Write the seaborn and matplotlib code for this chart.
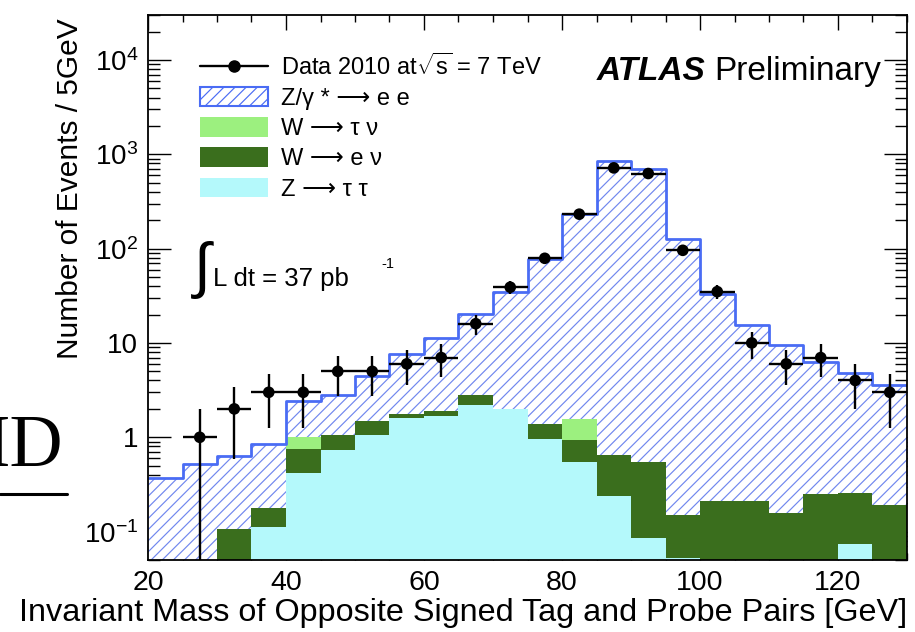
import numpy as np
import pandas as pd
import matplotlib
matplotlib.use("Agg")
import matplotlib.pyplot as plt
import seaborn as sns
from matplotlib.lines import Line2D
from matplotlib.patches import Patch
from matplotlib.ticker import FixedLocator, LogLocator, MultipleLocator, NullFormatter
from matplotlib.colors import to_rgba

# ---- binning: 5 GeV bins from 20 to 130 GeV ----
bin_width = 5
mass_low = np.arange(20, 130, bin_width)
bin_edges = [float(e) for e in np.arange(20, 131, bin_width)]
mass_center = mass_low + bin_width / 2

# ---- expected events per bin for each process ----
z_ee = [0.37, 0.52, 0.52, 0.66, 1.43, 1.79, 3.0, 5.9, 9.4, 17.3, 32.7,
        77.1, 230, 844, 706, 126, 32.6, 15.2, 9.3, 6.1, 4.6, 3.37]
w_taunu = [0, 0, 0, 0, 0.25, 0, 0, 0, 0, 0, 0,
           0, 0.6, 0, 0, 0, 0, 0, 0, 0, 0, 0]
w_enu = [0, 0, 0.107, 0.068, 0.326, 0.31, 0.44, 0.18, 0.21, 0.57, 0.03,
         0.40, 0.395, 0.405, 0.455, 0.097, 0.21, 0.21, 0.159, 0.253, 0.18, 0.19]
z_tautau = [0, 0, 0, 0.112, 0.42, 0.74, 1.05, 1.60, 1.68, 2.22, 1.98,
            0.97, 0.55, 0.239, 0.0855, 0.0525, 0, 0, 0, 0, 0.0745, 0]

# ---- observed events per bin ----
data_counts = [0, 1, 2, 3, 3, 5, 5, 6, 7, 16, 39,
               79, 232, 718, 626, 96, 35, 10, 6, 7, 4, 3]

process_labels = ["Z/γ * ⟶ e e", "W ⟶ τ ν", "W ⟶ e ν", "Z ⟶ τ τ"]
data_label = r"Data 2010 at$\sqrt{\mathrm{s}}$ = 7 TeV"

xtick_values = [20, 40, 60, 80, 100, 120]
ytick_values = [0.1, 1, 10, 100, 1000, 10000]
ytick_labels = [r"$10^{-1}$", "1", "10", r"$10^{2}$", r"$10^{3}$", r"$10^{4}$"]

# ---- colours ----
outline_blue = "#4a6cf4"
hatch_blue = "#7087ee"
palette = {
    process_labels[0]: "#ffffff",
    process_labels[1]: "#9cf07f",
    process_labels[2]: "#3a6e1d",
    process_labels[3]: "#b4f9fb",
}

sns.set_theme(style="ticks")
plt.rcParams["font.family"] = ["Liberation Sans", "DejaVu Sans"]
plt.rcParams["mathtext.fontset"] = "custom"
plt.rcParams["mathtext.rm"] = "Liberation Sans"
plt.rcParams["mathtext.it"] = "Liberation Sans:italic"
plt.rcParams["mathtext.bf"] = "Liberation Sans:bold"
plt.rcParams["hatch.linewidth"] = 0.85
plt.rcParams["axes.edgecolor"] = "black"
plt.rcParams["text.color"] = "black"
plt.rcParams["axes.labelcolor"] = "black"
plt.rcParams["xtick.color"] = "black"
plt.rcParams["ytick.color"] = "black"
plt.rcParams["xtick.labelcolor"] = "black"
plt.rcParams["ytick.labelcolor"] = "black"

fig = plt.figure(figsize=(9.15, 6.32), dpi=100)
ax = fig.add_axes([148 / 915, 72 / 632, 759 / 915, 545 / 632])

# long table of the stacked backgrounds
stack_df = pd.concat(
    [
        pd.DataFrame({"mass": mass_center, "events": vals, "process": name})
        for name, vals in zip(process_labels, [z_ee, w_taunu, w_enu, z_tautau])
    ],
    ignore_index=True,
)

sns.histplot(
    data=stack_df, x="mass", weights="events", hue="process",
    hue_order=process_labels, bins=bin_edges, multiple="stack",
    element="step", fill=True, palette=palette, alpha=1, linewidth=0,
    legend=False, ax=ax,
)

# hatch the Z/gamma* -> ee layer
white = to_rgba("#ffffff")
for coll in ax.collections:
    fc = coll.get_facecolor()
    if len(fc) and np.allclose(fc[0], white):
        coll.set_hatch("///")
        coll.set_edgecolor(hatch_blue)
        coll.set_linewidth(0)

# outline of the total expectation
stack_total = np.sum([z_ee, w_taunu, w_enu, z_tautau], axis=0)
total_df = pd.DataFrame({"mass": mass_center, "events": stack_total})
sns.histplot(
    data=total_df, x="mass", weights="events", bins=bin_edges, element="step",
    fill=False, color=outline_blue, linewidth=2.0, ax=ax,
)

ax.set_yscale("log")

# observed data with Poisson errors
counts = np.asarray(data_counts, dtype=float)
has_data = counts > 0
ax.errorbar(
    mass_center[has_data], counts[has_data], xerr=bin_width / 2,
    yerr=np.sqrt(counts[has_data]), fmt="none", ecolor="black",
    elinewidth=1.7, capsize=0, zorder=5,
)
sns.scatterplot(
    x=mass_center[has_data], y=counts[has_data], color="black", s=70,
    edgecolor="none", zorder=6, ax=ax, legend=False,
)

ax.set_xlim(20, 130)
ax.set_ylim(0.05, 3e4)
ax.set_xlabel("")
ax.set_ylabel("")

ax.xaxis.set_major_locator(FixedLocator(xtick_values))
ax.xaxis.set_minor_locator(MultipleLocator(bin_width))
ax.yaxis.set_major_locator(FixedLocator(ytick_values))
ax.yaxis.set_minor_locator(LogLocator(base=10, subs=np.arange(2, 10)))
ax.yaxis.set_minor_formatter(NullFormatter())
ax.set_yticklabels(ytick_labels)

ax.tick_params(axis="x", which="major", direction="in", length=11, width=1,
               top=True, labelsize=20.5, pad=7, labelcolor="black")
ax.tick_params(axis="x", which="minor", direction="in", length=5, width=1, top=True)
ax.tick_params(axis="y", which="major", direction="in", length=16.5, width=1,
               right=True, labelsize=20, pad=7, labelcolor="black")
ax.tick_params(axis="y", which="minor", direction="in", length=8.5, width=1, right=True)
for sp in ax.spines.values():
    sp.set_linewidth(1.3)
    sp.set_color("black")
    sp.set_zorder(10)

# axis titles
fig.text(907 / 915, 1 - 598 / 632, "Invariant Mass of Opposite Signed Tag and Probe Pairs [GeV]",
         ha="right", va="top", fontsize=23.3, color="black")
fig.text(70 / 915, 1 - 18 / 632, "Number of Events / 5GeV", rotation=90,
         ha="center", va="top", fontsize=21.5, color="black")

# legend
handles = [
    Line2D([], [], color="black", lw=1.7, marker="o", markersize=8),
    Patch(facecolor="white", edgecolor=outline_blue, hatch="///", linewidth=1.5),
    Patch(facecolor=palette[process_labels[1]], edgecolor="none"),
    Patch(facecolor=palette[process_labels[2]], edgecolor="none"),
    Patch(facecolor=palette[process_labels[3]], edgecolor="none"),
]
leg = ax.legend(
    handles, [data_label] + process_labels, loc="upper left",
    bbox_to_anchor=(200 / 915, 1 - 53 / 632), bbox_transform=fig.transFigure,
    frameon=False, fontsize=17, handlelength=2.9, handleheight=0.9,
    handletextpad=0.55, labelspacing=0.31, borderpad=0, borderaxespad=0,
)
for t in leg.get_texts():
    t.set_color("black")

# experiment label
fig.text(597 / 915, 1 - 80 / 632, "ATLAS", fontsize=24, fontweight="bold",
         fontstyle="italic", va="baseline")
fig.text(714 / 915, 1 - 80 / 632, "Preliminary", fontsize=24, va="baseline")

# integrated luminosity
fig.text(202 / 915, 1 - 270 / 632, "∫", fontsize=44, ha="center", va="center")
fig.text(213 / 915, 1 - 286 / 632, "L dt = 37 pb", fontsize=18.5, va="baseline")
fig.text(381 / 915, 1 - 268 / 632, "-1", fontsize=10.5, va="baseline")

# slide fragment at the left edge
fig.text(63 / 915, 1 - 466 / 632, "ID", fontsize=53, va="baseline", ha="right",
         family=["Liberation Serif"])
fig.add_artist(Line2D([0, 67 / 915], [1 - 494 / 632, 1 - 494 / 632],
                      transform=fig.transFigure, color="black", lw=2.2))

fig.savefig("out.png", dpi=100)
